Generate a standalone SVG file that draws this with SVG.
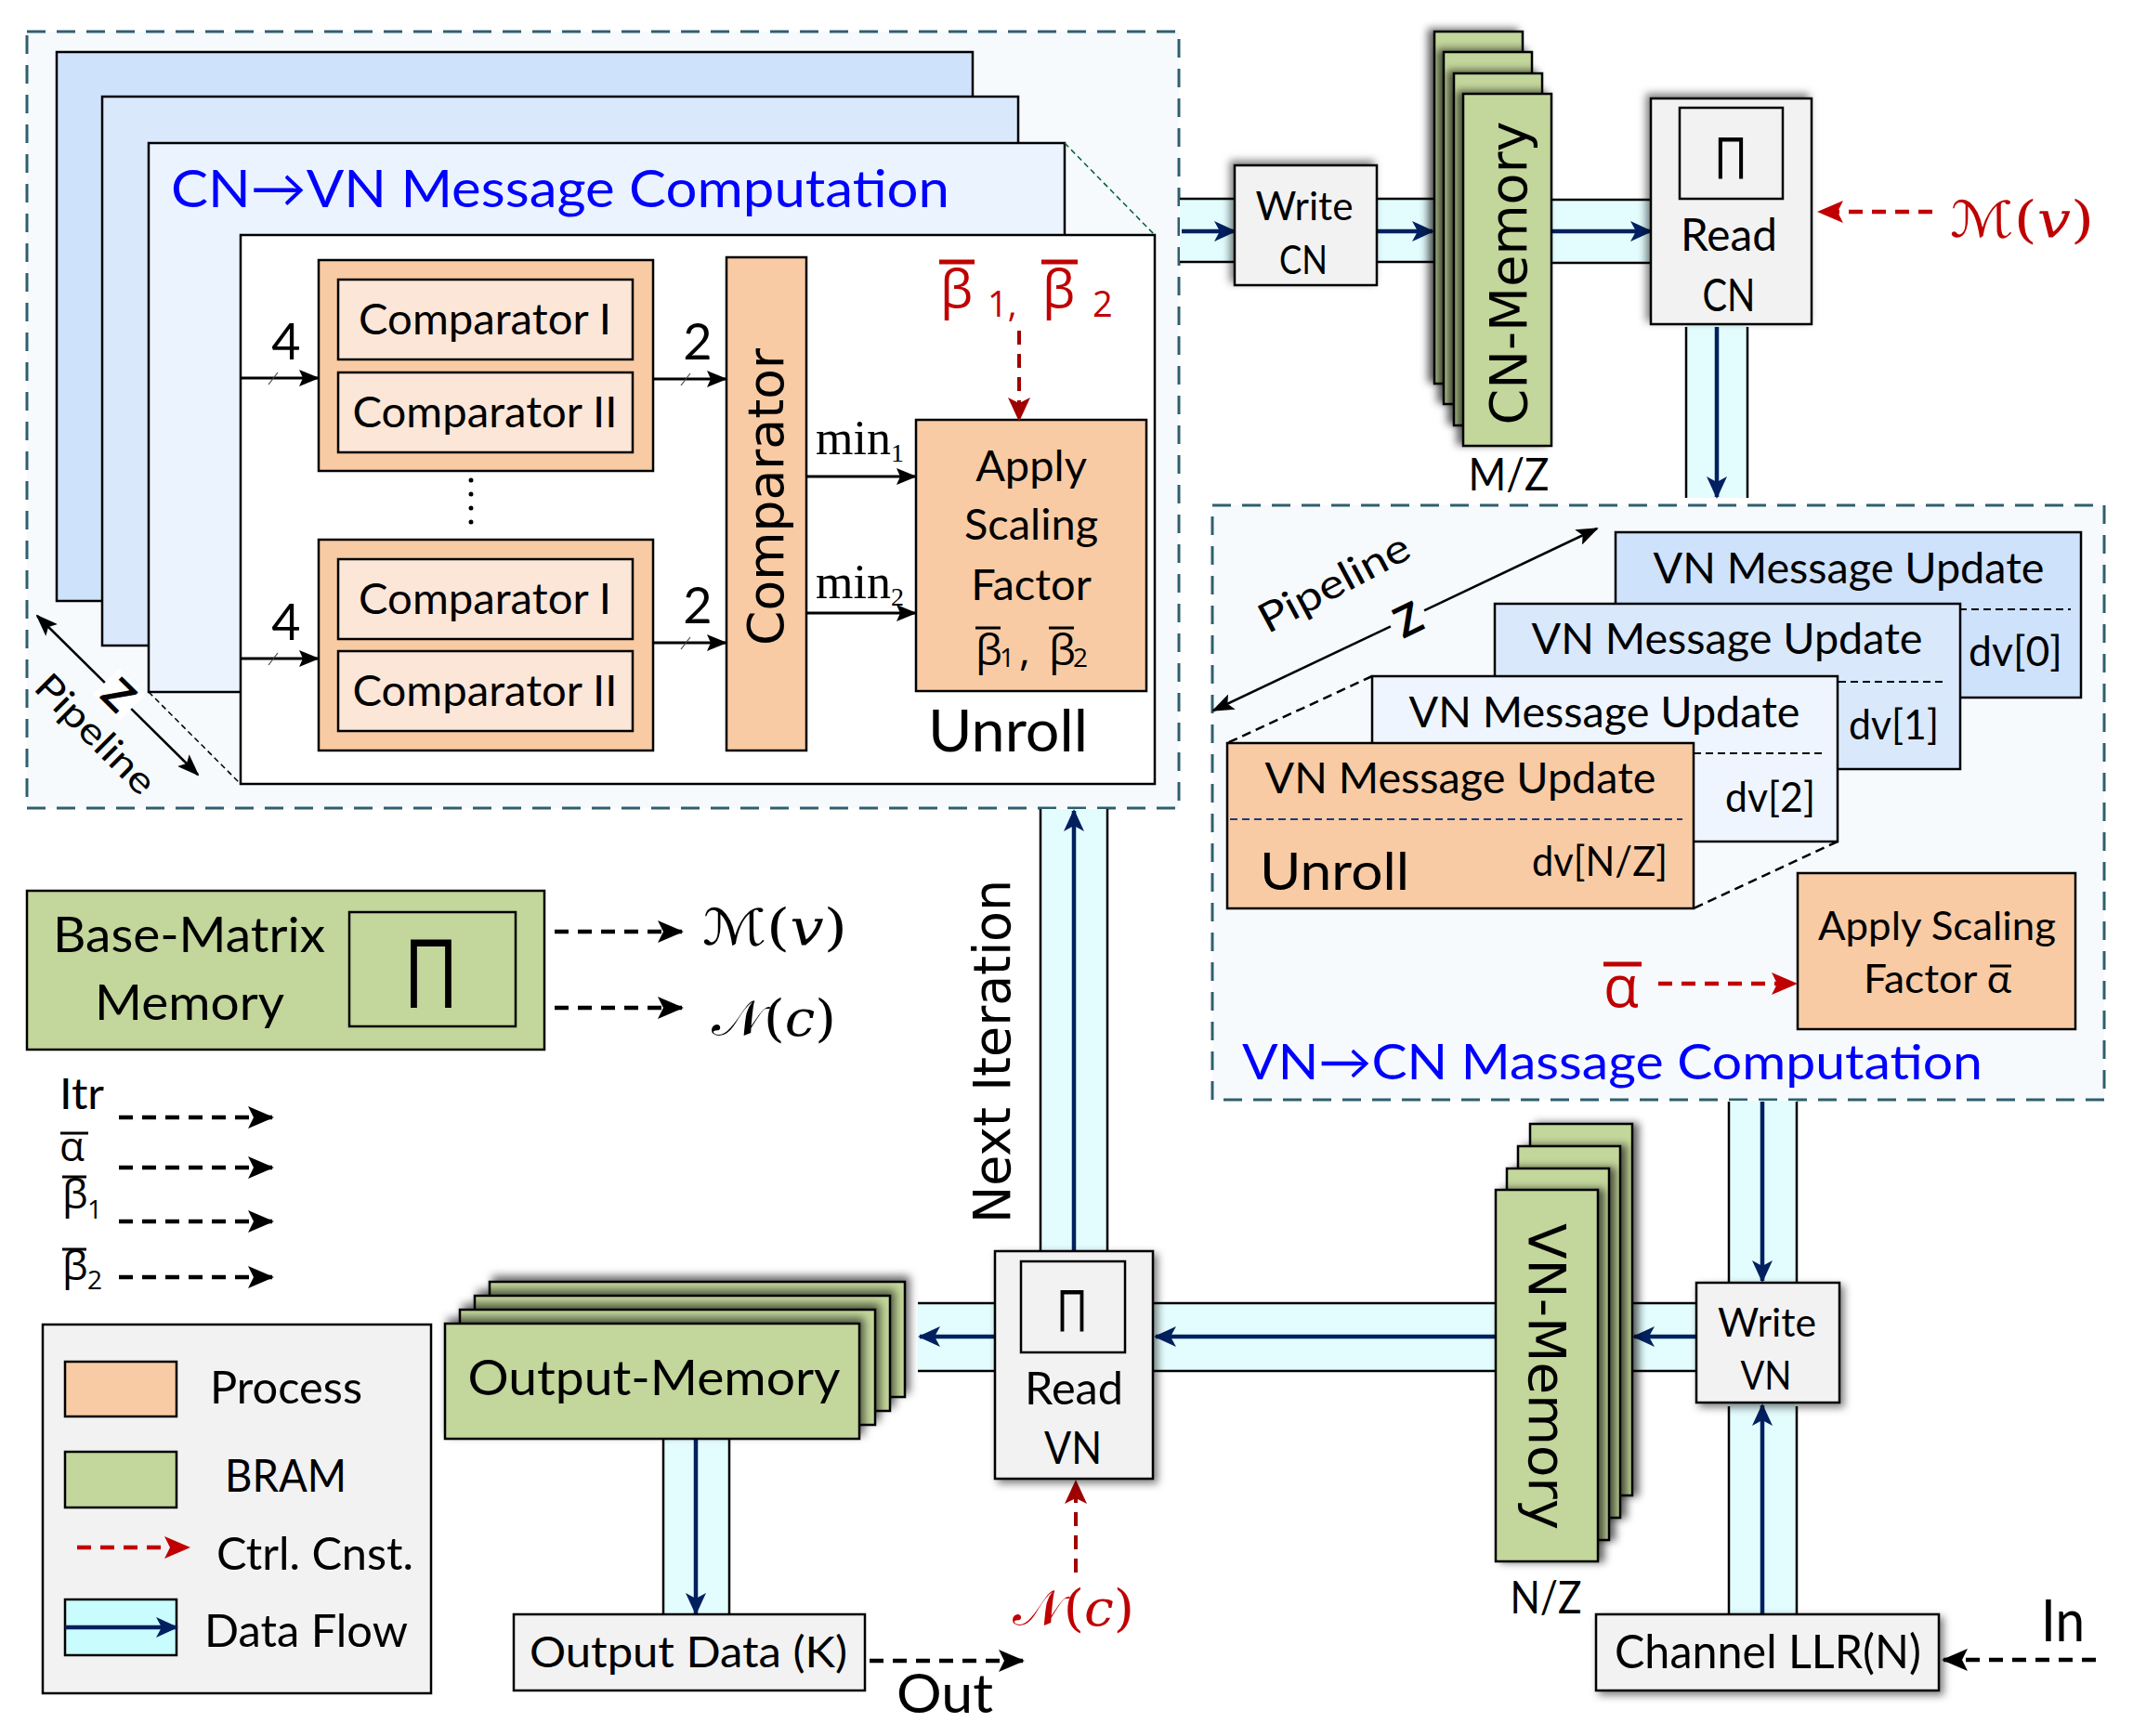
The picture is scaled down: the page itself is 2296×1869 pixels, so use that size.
<svg xmlns="http://www.w3.org/2000/svg" width="2296" height="1869" viewBox="0 0 2296 1869">
<defs>
<style>
.c{font-family:Lato,"Open Sans","DejaVu Sans",sans-serif}
.v{font-family:"DejaVu Sans",Verdana,sans-serif}
.g{font-family:"Open Sans","DejaVu Sans",sans-serif}
.m{font-family:"DejaVu Serif","DejaVu Sans","Noto Sans",serif}
.s{font-family:"Liberation Serif","Times New Roman",serif}
.mid{text-anchor:middle}
.k{stroke:#000;stroke-width:2.5}
.gray{fill:#f2f2f2}
.peach{fill:#f8cba4}
.lpeach{fill:#fbe6d7}
.green{fill:#c3d69b}
.band{fill:#e3fcfd;stroke:none}
.edge{stroke:#000;stroke-width:2.5}
.flow{stroke:#002060;stroke-width:4.5;fill:none;marker-end:url(#mNavy)}
.blk{stroke:#000;stroke-width:3;marker-end:url(#mBlk)}
.dash{stroke:#000;stroke-width:4.5;stroke-dasharray:15 10;marker-end:url(#mDash)}
.rdash{stroke:#c00000;stroke-width:4.5;stroke-dasharray:15 10;marker-end:url(#mRed)}
.drdash{stroke:#a00000;stroke-width:4;stroke-dasharray:15 10;marker-end:url(#mDRed)}
.sep{stroke:#000;stroke-width:2;stroke-dasharray:8 5}
.tick{stroke:#444;stroke-width:1.2}
.blue{fill:#0000ff}
.red{fill:#c00000}
</style>
<marker id="mNavy" markerUnits="userSpaceOnUse" markerWidth="24" markerHeight="22" viewBox="0 0 24 22" refX="22" refY="11" orient="auto"><path d="M0,0 L24,11 L0,22 L6,11 z" fill="#002060"/></marker>
<marker id="mBlk" markerUnits="userSpaceOnUse" markerWidth="22" markerHeight="18" viewBox="0 0 22 18" refX="21" refY="9" orient="auto"><path d="M0,0 L22,9 L0,18 L4,9 z" fill="#000"/></marker>
<marker id="mDash" markerUnits="userSpaceOnUse" markerWidth="28" markerHeight="24" viewBox="0 0 28 24" refX="26" refY="12" orient="auto"><path d="M0,0 L28,12 L0,24 L6,12 z" fill="#000"/></marker>
<marker id="mRed" markerUnits="userSpaceOnUse" markerWidth="28" markerHeight="24" viewBox="0 0 28 24" refX="26" refY="12" orient="auto"><path d="M0,0 L28,12 L0,24 L6,12 z" fill="#c00000"/></marker>
<marker id="mDRed" markerUnits="userSpaceOnUse" markerWidth="26" markerHeight="24" viewBox="0 0 26 24" refX="24" refY="12" orient="auto"><path d="M0,0 L26,12 L0,24 L6,12 z" fill="#a00000"/></marker>
<marker id="mPipe" markerUnits="userSpaceOnUse" markerWidth="24" markerHeight="18" viewBox="0 0 24 18" refX="22" refY="9" orient="auto-start-reverse"><path d="M0,0 L24,9 L0,18 L5,9 z" fill="#000"/></marker>
<filter id="fTL" x="-20%" y="-20%" width="140%" height="140%"><feDropShadow dx="-4" dy="-4" stdDeviation="4" flood-color="#000" flood-opacity="0.5"/></filter>
<filter id="fBR" x="-20%" y="-20%" width="140%" height="140%"><feDropShadow dx="4" dy="4" stdDeviation="4" flood-color="#000" flood-opacity="0.5"/></filter>
<filter id="fL" x="-30%" y="-10%" width="160%" height="120%"><feDropShadow dx="-6" dy="-2" stdDeviation="4" flood-color="#000" flood-opacity="0.6"/></filter>
<filter id="fR" x="-30%" y="-10%" width="160%" height="120%"><feDropShadow dx="6" dy="0" stdDeviation="4" flood-color="#000" flood-opacity="0.6"/></filter>
<filter id="fTR" x="-10%" y="-30%" width="120%" height="160%"><feDropShadow dx="4" dy="-5" stdDeviation="5" flood-color="#000" flood-opacity="0.6"/></filter>
</defs>
<rect width="2296" height="1869" fill="#ffffff"/>

<!-- CN -> VN computation container -->
<g id="cn-vn-computation">
  <rect x="29" y="34" width="1240" height="836" fill="#f6fafd" stroke="#2f5f6f" stroke-width="3" stroke-dasharray="20 12"/>
  <rect x="61" y="56" width="986" height="591" fill="#cfe2fb" class="k"/>
  <rect x="110" y="104" width="986" height="591" fill="#d9e8fb" class="k"/>
  <rect x="160" y="154" width="986" height="591" fill="#ebf4fe" class="k"/>
  <rect x="259" y="253" width="984" height="591" fill="#ffffff" class="k"/>
  <line x1="1146" y1="154" x2="1243" y2="253" stroke="#006030" stroke-width="1.5" stroke-dasharray="6 4"/>
  <line x1="160" y1="745" x2="259" y2="844" stroke="#000" stroke-width="1.5" stroke-dasharray="6 4"/>
  <text class="c blue" x="184" y="223" font-size="57" textLength="838" lengthAdjust="spacingAndGlyphs">CN→VN Message Computation</text>
  <line x1="40" y1="663" x2="213" y2="834" stroke="#000" stroke-width="2.5" marker-start="url(#mPipe)" marker-end="url(#mPipe)"/>
  <rect x="108" y="728" width="40" height="40" fill="#ffffff" transform="rotate(45 128 748)"/>
  <text class="c mid" x="116" y="760" font-size="46" font-weight="bold" transform="rotate(45 116 760)">Z</text>
  <text class="c mid" x="93" y="800" font-size="40" textLength="165" lengthAdjust="spacingAndGlyphs" transform="rotate(45 93 800)">Pipeline</text>
  <text class="c mid" x="1085" y="809" font-size="62" textLength="172" lengthAdjust="spacingAndGlyphs">Unroll</text>
  <g id="dots"><circle cx="507" cy="517" r="2.5"/><circle cx="507" cy="532" r="2.5"/><circle cx="507" cy="547" r="2.5"/><circle cx="507" cy="562" r="2.5"/></g>
  <text class="c mid" x="308" y="387" font-size="54">4</text>
  <text class="c mid" x="308" y="689" font-size="54">4</text>
  <text class="c mid" x="751" y="387" font-size="54">2</text>
  <text class="c mid" x="751" y="671" font-size="54">2</text>
  <text class="s" x="878" y="489" font-size="52">min<tspan font-size="28" dy="8">1</tspan></text>
  <text class="s" x="878" y="644" font-size="52">min<tspan font-size="28" dy="8">2</tspan></text>
  <g id="beta-ctrl">
    <text class="g red" x="1012" y="331" font-size="56">β</text>
    <text class="g red" x="1063" y="341" font-size="38">1,</text>
    <text class="g red" x="1122" y="331" font-size="56">β</text>
    <text class="g red" x="1176" y="341" font-size="38">2</text>
    <line x1="1011" y1="282" x2="1049" y2="282" stroke="#c00000" stroke-width="5"/>
    <line x1="1121" y1="282" x2="1160" y2="282" stroke="#c00000" stroke-width="5"/>
  </g>
</g>

<g id="comparator-group-1">
  <rect x="343" y="280" width="360" height="227" class="peach k"/>
  <rect x="364" y="301" width="317" height="86" class="lpeach k"/>
  <rect x="364" y="401" width="317" height="86" class="lpeach k"/>
  <text class="c mid" x="522" y="360" font-size="46" textLength="272" lengthAdjust="spacingAndGlyphs">Comparator I</text>
  <text class="c mid" x="522" y="460" font-size="46" textLength="285" lengthAdjust="spacingAndGlyphs">Comparator II</text>
</g>
<g id="comparator-group-2">
  <rect x="343" y="581" width="360" height="227" class="peach k"/>
  <rect x="364" y="602" width="317" height="86" class="lpeach k"/>
  <rect x="364" y="701" width="317" height="86" class="lpeach k"/>
  <text class="c mid" x="522" y="661" font-size="46" textLength="272" lengthAdjust="spacingAndGlyphs">Comparator I</text>
  <text class="c mid" x="522" y="760" font-size="46" textLength="285" lengthAdjust="spacingAndGlyphs">Comparator II</text>
</g>
<g id="comparator">
  <rect x="782" y="277" width="86" height="531" class="peach k"/>
  <text class="v mid" font-size="53" textLength="320" lengthAdjust="spacingAndGlyphs" transform="translate(843 535) rotate(-90)">Comparator</text>
</g>
<g id="apply-scaling-beta">
  <rect x="986" y="452" width="248" height="292" class="peach k"/>
  <text class="c mid" x="1110" y="518" font-size="47">Apply</text>
  <text class="c mid" x="1110" y="581" font-size="47">Scaling</text>
  <text class="c mid" x="1110" y="646" font-size="47">Factor</text>
  <text class="g" x="1050" y="716" font-size="46">β</text>
  <text class="g" x="1076" y="718" font-size="28">1</text>
  <text class="g" x="1097" y="716" font-size="46">,</text>
  <text class="g" x="1129" y="716" font-size="46">β</text>
  <text class="g" x="1155" y="718" font-size="28">2</text>
  <line x1="1050" y1="676" x2="1077" y2="676" stroke="#000" stroke-width="3"/>
  <line x1="1129" y1="676" x2="1156" y2="676" stroke="#000" stroke-width="3"/>
</g>

<!-- VN -> CN computation container -->
<g id="vn-cn-computation">
  <rect x="1305" y="544" width="960" height="640" fill="#f6fafd" stroke="#2f5f6f" stroke-width="3" stroke-dasharray="20 12"/>
  <line x1="1306" y1="765" x2="1719" y2="569" stroke="#000" stroke-width="2.5" marker-start="url(#mPipe)" marker-end="url(#mPipe)"/>
  <rect x="1496" y="648" width="40" height="40" fill="#f6fafd" transform="rotate(-26 1516 668)"/>
  <text class="c mid" x="1523" y="682" font-size="46" font-weight="bold" transform="rotate(-26 1523 682)">Z</text>
  <text class="c mid" x="1443" y="641" font-size="44" textLength="178" lengthAdjust="spacingAndGlyphs" transform="rotate(-28 1443 641)">Pipeline</text>
  <g id="vn-update-0">
    <rect x="1739" y="573" width="501" height="178" fill="#cfe2fb" class="k"/>
    <line x1="2109" y1="656" x2="2229" y2="656" class="sep"/>
    <text class="c mid" x="1990" y="628" font-size="47" textLength="421" lengthAdjust="spacingAndGlyphs">VN Message Update</text>
    <text class="c" x="2119" y="717" font-size="44" textLength="101" lengthAdjust="spacingAndGlyphs">dv[0]</text>
  </g>
  <g id="vn-update-1">
    <rect x="1609" y="650" width="501" height="178" fill="#d9e8fb" class="k"/>
    <line x1="1979" y1="734" x2="2096" y2="734" class="sep"/>
    <text class="c mid" x="1859" y="704" font-size="47" textLength="421" lengthAdjust="spacingAndGlyphs">VN Message Update</text>
    <text class="c" x="1990" y="796" font-size="44" textLength="97" lengthAdjust="spacingAndGlyphs">dv[1]</text>
  </g>
  <g id="vn-update-2">
    <rect x="1477" y="728" width="501" height="178" fill="#eef5fe" class="k"/>
    <line x1="1823" y1="811" x2="1966" y2="811" class="sep"/>
    <text class="c mid" x="1727" y="783" font-size="47" textLength="421" lengthAdjust="spacingAndGlyphs">VN Message Update</text>
    <text class="c" x="1857" y="874" font-size="44" textLength="97" lengthAdjust="spacingAndGlyphs">dv[2]</text>
  </g>
  <g id="vn-update-unroll">
    <rect x="1321" y="800" width="502" height="178" class="peach k"/>
    <line x1="1324" y1="882" x2="1811" y2="882" stroke="#1f3a7a" stroke-width="2" stroke-dasharray="8 5"/>
    <text class="c mid" x="1572" y="854" font-size="47" textLength="421" lengthAdjust="spacingAndGlyphs">VN Message Update</text>
    <text class="c" x="1356" y="958" font-size="57" textLength="161" lengthAdjust="spacingAndGlyphs">Unroll</text>
    <text class="c" x="1649" y="943" font-size="44" textLength="146" lengthAdjust="spacingAndGlyphs">dv[N/Z]</text>
  </g>
  <line x1="1477" y1="728" x2="1321" y2="800" stroke="#000" stroke-width="2.5" stroke-dasharray="10 6"/>
  <line x1="1978" y1="906" x2="1823" y2="978" stroke="#000" stroke-width="2.5" stroke-dasharray="10 6"/>
  <g id="apply-scaling-alpha">
    <rect x="1935" y="940" width="299" height="168" class="peach k"/>
    <text class="c mid" x="2085" y="1012" font-size="43" textLength="256" lengthAdjust="spacingAndGlyphs">Apply Scaling</text>
    <text class="c" x="2006" y="1069" font-size="43" textLength="159" lengthAdjust="spacingAndGlyphs">Factor α</text>
    <line x1="2142" y1="1040" x2="2165" y2="1040" stroke="#000" stroke-width="3"/>
  </g>
  <text class="g red" x="1726" y="1084" font-size="62">α</text>
  <line x1="1726" y1="1038" x2="1767" y2="1038" stroke="#c00000" stroke-width="5"/>
  <text class="c blue" x="1337" y="1162" font-size="53" textLength="797" lengthAdjust="spacingAndGlyphs">VN→CN Massage Computation</text>
</g>

<!-- Data flow connectors and control arrows -->
<g id="connectors">
  <g id="bands">
    <rect x="1270" y="214" width="59" height="68" class="band"/>
    <line x1="1270" y1="214" x2="1329" y2="214" class="edge"/><line x1="1270" y1="282" x2="1329" y2="282" class="edge"/>
    <rect x="1482" y="214" width="93" height="68" class="band"/>
    <line x1="1482" y1="214" x2="1545" y2="214" class="edge"/><line x1="1482" y1="282" x2="1545" y2="282" class="edge"/>
    <rect x="1670" y="215" width="107" height="68" class="band"/>
    <line x1="1670" y1="215" x2="1777" y2="215" class="edge"/><line x1="1670" y1="283" x2="1777" y2="283" class="edge"/>
    <rect x="1815" y="349" width="66" height="187" class="band"/>
    <line x1="1815" y1="352" x2="1815" y2="536" class="edge"/><line x1="1881" y1="352" x2="1881" y2="536" class="edge"/>
    <rect x="1861" y="1185" width="73" height="196" class="band"/>
    <line x1="1861" y1="1186" x2="1861" y2="1381" class="edge"/><line x1="1934" y1="1186" x2="1934" y2="1381" class="edge"/>
    <rect x="1861" y="1510" width="73" height="228" class="band"/>
    <line x1="1861" y1="1514" x2="1861" y2="1738" class="edge"/><line x1="1934" y1="1514" x2="1934" y2="1738" class="edge"/>
    <rect x="1720" y="1403" width="106" height="73" class="band"/>
    <line x1="1720" y1="1403" x2="1826" y2="1403" class="edge"/><line x1="1720" y1="1476" x2="1826" y2="1476" class="edge"/>
    <rect x="1242" y="1403" width="368" height="73" class="band"/>
    <line x1="1242" y1="1403" x2="1610" y2="1403" class="edge"/><line x1="1242" y1="1476" x2="1610" y2="1476" class="edge"/>
    <rect x="988" y="1403" width="82" height="73" class="band"/>
    <line x1="988" y1="1403" x2="1070" y2="1403" class="edge"/><line x1="988" y1="1476" x2="1070" y2="1476" class="edge"/>
    <rect x="714" y="1549" width="71" height="189" class="band"/>
    <line x1="714" y1="1549" x2="714" y2="1738" class="edge"/><line x1="785" y1="1549" x2="785" y2="1738" class="edge"/>
    <rect x="1120" y="871" width="72" height="476" class="band"/>
    <line x1="1120" y1="871" x2="1120" y2="1347" class="edge"/><line x1="1192" y1="871" x2="1192" y2="1347" class="edge"/>
  </g>
  <g id="flows">
    <line x1="1272" y1="249" x2="1329" y2="249" class="flow"/>
    <line x1="1482" y1="249" x2="1542" y2="249" class="flow"/>
    <line x1="1670" y1="249" x2="1777" y2="249" class="flow"/>
    <line x1="1848" y1="352" x2="1848" y2="535" class="flow"/>
    <line x1="1897" y1="1186" x2="1897" y2="1379" class="flow"/>
    <line x1="1897" y1="1738" x2="1897" y2="1513" class="flow"/>
    <line x1="1826" y1="1439" x2="1759" y2="1439" class="flow"/>
    <line x1="1610" y1="1439" x2="1244" y2="1439" class="flow"/>
    <line x1="1070" y1="1439" x2="990" y2="1439" class="flow"/>
    <line x1="749" y1="1549" x2="749" y2="1737" class="flow"/>
    <line x1="1156" y1="1347" x2="1156" y2="873" class="flow"/>
  </g>
  <g id="comparator-arrows">
    <line x1="259" y1="407" x2="343" y2="407" class="blk"/>
    <line x1="259" y1="709" x2="343" y2="709" class="blk"/>
    <line x1="703" y1="408" x2="782" y2="408" class="blk"/>
    <line x1="703" y1="692" x2="782" y2="692" class="blk"/>
    <line x1="868" y1="513" x2="986" y2="513" class="blk"/>
    <line x1="868" y1="660" x2="986" y2="660" class="blk"/>
    <line x1="289" y1="414" x2="299" y2="401" class="tick"/>
    <line x1="289" y1="716" x2="299" y2="703" class="tick"/>
    <line x1="733" y1="415" x2="743" y2="402" class="tick"/>
    <line x1="733" y1="699" x2="743" y2="686" class="tick"/>
  </g>
  <g id="control-arrows">
    <line x1="1097" y1="356" x2="1097" y2="452" class="drdash"/>
    <line x1="2080" y1="228" x2="1958" y2="228" class="rdash"/>
    <line x1="1785" y1="1059" x2="1933" y2="1059" class="rdash"/>
    <line x1="1158" y1="1693" x2="1158" y2="1595" class="drdash"/>
    <line x1="597" y1="1003" x2="734" y2="1003" class="dash"/>
    <line x1="597" y1="1085" x2="734" y2="1085" class="dash"/>
    <line x1="128" y1="1203" x2="293" y2="1203" class="dash"/>
    <line x1="128" y1="1257" x2="293" y2="1257" class="dash"/>
    <line x1="128" y1="1315" x2="293" y2="1315" class="dash"/>
    <line x1="128" y1="1375" x2="293" y2="1375" class="dash"/>
    <line x1="936" y1="1788" x2="1101" y2="1788" class="dash"/>
    <line x1="2256" y1="1787" x2="2092" y2="1787" class="dash"/>
  </g>
</g>

<g id="write-cn">
  <rect x="1329" y="178" width="153" height="129" class="gray k" filter="url(#fTL)"/>
  <text class="c mid" x="1404" y="237" font-size="42" textLength="105" lengthAdjust="spacingAndGlyphs">Write</text>
  <text class="c mid" x="1403" y="295" font-size="42" textLength="52" lengthAdjust="spacingAndGlyphs">CN</text>
</g>
<g id="cn-memory">
  <rect x="1544" y="34" width="95" height="379" class="green k" filter="url(#fL)"/>
  <rect x="1554" y="56" width="95" height="379" class="green k" filter="url(#fL)"/>
  <rect x="1565" y="79" width="95" height="379" class="green k" filter="url(#fL)"/>
  <rect x="1575" y="101" width="95" height="379" class="green k" filter="url(#fL)"/>
  <text class="v mid" font-size="56" textLength="327" lengthAdjust="spacingAndGlyphs" transform="translate(1643 294) rotate(-90)">CN-Memory</text>
  <text class="c mid" x="1624" y="528" font-size="48" textLength="87" lengthAdjust="spacingAndGlyphs">M/Z</text>
</g>
<g id="read-cn">
  <rect x="1777" y="106" width="173" height="243" class="gray k" filter="url(#fTL)"/>
  <rect x="1808" y="116" width="111" height="98" fill="none" class="k"/>
  <text class="g mid" x="1863" y="193" font-size="62" textLength="36" lengthAdjust="spacingAndGlyphs">Π</text>
  <text class="c mid" x="1861" y="270" font-size="48" textLength="104" lengthAdjust="spacingAndGlyphs">Read</text>
  <text class="c mid" x="1861" y="335" font-size="48" textLength="57" lengthAdjust="spacingAndGlyphs">CN</text>
</g>
<text class="m red" x="2099" y="255" font-size="54" textLength="155" lengthAdjust="spacingAndGlyphs">ℳ(<tspan font-style="italic">v</tspan>)</text>

<g id="vn-memory">
  <rect x="1647" y="1210" width="110" height="400" class="green k" filter="url(#fR)"/>
  <rect x="1634" y="1234" width="110" height="400" class="green k" filter="url(#fR)"/>
  <rect x="1622" y="1258" width="110" height="400" class="green k" filter="url(#fR)"/>
  <rect x="1610" y="1281" width="110" height="400" class="green k" filter="url(#fR)"/>
  <text class="v mid" font-size="56" textLength="330" lengthAdjust="spacingAndGlyphs" transform="translate(1646 1482) rotate(90)">VN-Memory</text>
  <text class="c mid" x="1664" y="1737" font-size="48" textLength="77" lengthAdjust="spacingAndGlyphs">N/Z</text>
</g>
<g id="write-vn">
  <rect x="1826" y="1381" width="154" height="129" class="gray k" filter="url(#fBR)"/>
  <text class="c mid" x="1902" y="1439" font-size="42" textLength="106" lengthAdjust="spacingAndGlyphs">Write</text>
  <text class="c mid" x="1901" y="1496" font-size="42" textLength="55" lengthAdjust="spacingAndGlyphs">VN</text>
</g>
<g id="channel-llr">
  <rect x="1718" y="1738" width="369" height="82" class="gray k" filter="url(#fBR)"/>
  <text class="c mid" x="1903" y="1796" font-size="50" textLength="330" lengthAdjust="spacingAndGlyphs">Channel LLR(N)</text>
</g>
<text class="c" x="2197" y="1767" font-size="61" textLength="47" lengthAdjust="spacingAndGlyphs">In</text>

<g id="read-vn">
  <rect x="1071" y="1347" width="170" height="245" class="gray k" filter="url(#fBR)"/>
  <rect x="1099" y="1358" width="112" height="98" fill="none" class="k"/>
  <text class="g mid" x="1154" y="1434" font-size="62" textLength="34" lengthAdjust="spacingAndGlyphs">Π</text>
  <text class="c mid" x="1156" y="1512" font-size="48" textLength="106" lengthAdjust="spacingAndGlyphs">Read</text>
  <text class="c mid" x="1155" y="1576" font-size="48" textLength="62" lengthAdjust="spacingAndGlyphs">VN</text>
</g>
<text class="v mid" font-size="55" textLength="370" lengthAdjust="spacingAndGlyphs" transform="translate(1087 1132) rotate(-90)">Next Iteration</text>
<text class="m red" x="1090" y="1750" font-size="54" textLength="131" lengthAdjust="spacingAndGlyphs">𝒩(<tspan font-style="italic">c</tspan>)</text>

<g id="output-memory">
  <rect x="527" y="1380" width="447" height="124" class="green k" filter="url(#fTR)"/>
  <rect x="511" y="1395" width="447" height="124" class="green k" filter="url(#fTR)"/>
  <rect x="495" y="1410" width="447" height="124" class="green k" filter="url(#fTR)"/>
  <rect x="479" y="1425" width="446" height="124" class="green k" filter="url(#fTR)"/>
  <text class="c mid" x="704" y="1502" font-size="52" textLength="401" lengthAdjust="spacingAndGlyphs">Output-Memory</text>
</g>
<g id="output-data">
  <rect x="553" y="1738" width="378" height="82" class="gray k"/>
  <text class="c mid" x="741" y="1795" font-size="46" textLength="342" lengthAdjust="spacingAndGlyphs">Output Data (K)</text>
</g>
<text class="c" x="965" y="1844" font-size="58" textLength="104" lengthAdjust="spacingAndGlyphs">Out</text>

<g id="base-matrix-memory">
  <rect x="29" y="959" width="557" height="171" class="green k"/>
  <rect x="376" y="982" width="179" height="123" fill="none" class="k"/>
  <text class="g mid" x="464" y="1085" font-size="102" textLength="60" lengthAdjust="spacingAndGlyphs">Π</text>
  <text class="c" x="57" y="1025" font-size="53" textLength="293" lengthAdjust="spacingAndGlyphs">Base-Matrix</text>
  <text class="c" x="102" y="1098" font-size="53" textLength="204" lengthAdjust="spacingAndGlyphs">Memory</text>
</g>
<text class="m" x="756" y="1017" font-size="54" textLength="156" lengthAdjust="spacingAndGlyphs">ℳ(<tspan font-style="italic">v</tspan>)</text>
<text class="m" x="766" y="1115" font-size="54" textLength="134" lengthAdjust="spacingAndGlyphs">𝒩(<tspan font-style="italic">c</tspan>)</text>

<g id="constants">
  <text class="c" x="64" y="1194" font-size="46" textLength="48" lengthAdjust="spacingAndGlyphs">Itr</text>
  <text class="g" x="64" y="1250" font-size="44">α</text>
  <line x1="65" y1="1220" x2="95" y2="1220" stroke="#000" stroke-width="3"/>
  <text class="g" x="67" y="1301" font-size="44">β</text>
  <text class="g" x="94" y="1312" font-size="28">1</text>
  <line x1="67" y1="1267" x2="93" y2="1267" stroke="#000" stroke-width="3"/>
  <text class="g" x="67" y="1378" font-size="44">β</text>
  <text class="g" x="94" y="1388" font-size="28">2</text>
  <line x1="67" y1="1345" x2="93" y2="1345" stroke="#000" stroke-width="3"/>
</g>

<g id="legend">
  <rect x="46" y="1426" width="418" height="397" class="gray k"/>
  <rect x="70" y="1466" width="120" height="59" class="peach k"/>
  <text class="c" x="226" y="1511" font-size="48" textLength="164" lengthAdjust="spacingAndGlyphs">Process</text>
  <rect x="70" y="1563" width="120" height="60" class="green k"/>
  <text class="c" x="242" y="1606" font-size="48" textLength="131" lengthAdjust="spacingAndGlyphs">BRAM</text>
  <line x1="83" y1="1666" x2="203" y2="1666" class="rdash"/>
  <text class="c" x="233" y="1690" font-size="48" textLength="212" lengthAdjust="spacingAndGlyphs">Ctrl. Cnst.</text>
  <rect x="70" y="1722" width="120" height="60" fill="#c8fcfd" class="k"/>
  <line x1="70" y1="1752" x2="190" y2="1752" class="flow"/>
  <text class="c" x="220" y="1773" font-size="48" textLength="219" lengthAdjust="spacingAndGlyphs">Data Flow</text>
</g>
</svg>
